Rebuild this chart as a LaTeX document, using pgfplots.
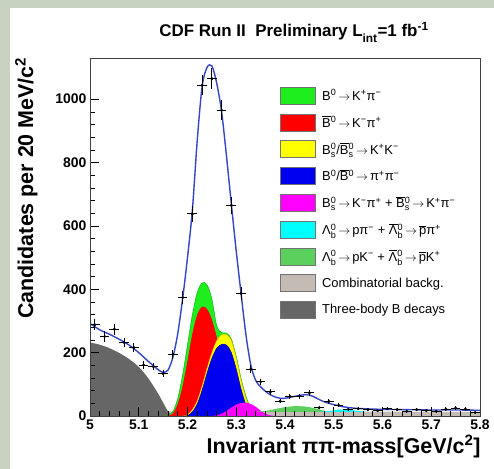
\documentclass[border=0pt]{standalone}
\usepackage{fontspec}
\setmainfont{Liberation Sans}
\usepackage{amsmath}
\usepackage{pgfplots}
\pgfplotsset{compat=1.18}

\definecolor{frameg}{HTML}{C8D2C0}
\definecolor{cgreen}{HTML}{1EEE1E}
\definecolor{cred}{HTML}{FF0000}
\definecolor{cyellow}{HTML}{FFFF00}
\definecolor{cblue}{HTML}{0000F0}
\definecolor{cmag}{HTML}{FF00FF}
\definecolor{ccyan}{HTML}{00FFFF}
\definecolor{clgreen}{HTML}{5CD05C}
\definecolor{ccomb}{HTML}{C4BCB4}
\definecolor{cthree}{HTML}{666666}
\definecolor{cfit}{HTML}{3545C8}

\newcommand{\sps}[1]{\ensuremath{^{\text{#1}}}}
\newcommand{\sbs}[2]{\ensuremath{^{\text{#1}}_{\text{#2}}}}
\newcommand{\ra}{\ensuremath{\,\rightarrow\,}}
\newcommand{\bbar}[1]{\ensuremath{\overline{\text{#1}}}}

\begin{document}
\begin{tikzpicture}
\path[use as bounding box] (0,0) rectangle (494bp,469bp);
\fill[frameg] (0,0) rectangle (494bp,469bp);
\fill[white] (10bp,0) rectangle (494bp,461bp);

\begin{axis}[
  scale only axis,
  width=390bp, height=358bp,
  at={(90bp,53bp)}, anchor=south west,
  xmin=5, xmax=5.8, ymin=0, ymax=1130,
  xtick={5,5.1,5.2,5.3,5.4,5.5,5.6,5.7,5.8},
  ytick={0,200,400,600,800,1000},
  minor x tick num=4, minor y tick num=4,
  tick align=inside, tick pos=left,
  major tick length=9bp, minor tick length=5bp,
  tick style={black, line width=0.7bp},
  axis line style={black!75, line width=0.8bp},
  axis on top,
  ticklabel style={font=\bfseries\fontsize{14}{14}\selectfont},
  /pgf/number format/assume math mode=true,
  /pgf/number format/1000 sep={},
  legend image code/.code={\draw[#1, draw=black!55, line width=0.5bp] (0bp,-8.5bp) rectangle (35bp,8.5bp);},
  legend cell align=left,
  legend style={draw=none, fill=none, at={(rel axis cs:0.487,0.92)}, anchor=north west,
    font=\fontsize{13}{13}\selectfont, row sep=9.3bp, column sep=6.5bp,
    inner sep=0pt, nodes={inner sep=0pt}},
]

% combinatorial background (flat band)
\addplot[forget plot, fill=ccomb, draw=none] coordinates {(5.00,15) (5.80,13)} \closedcycle;

% three-body B decays
\addplot[forget plot, fill=cthree, draw=none, smooth] coordinates {
 (5.00,232) (5.02,225) (5.04,214) (5.06,199) (5.08,180) (5.10,155) (5.12,118)
 (5.14,70) (5.15,42) (5.16,15) (5.17,2) (5.18,0)} \closedcycle;

% B0 -> K+ pi- (outermost)
\addplot[forget plot, fill=cgreen, draw=green!70!black, line width=0.4bp, smooth] coordinates {
 (5.15,0) (5.16,2) (5.17,14) (5.18,55) (5.19,130) (5.20,225) (5.21,320) (5.22,390)
 (5.23,420) (5.24,415) (5.25,370) (5.26,285) (5.27,263) (5.28,262) (5.29,243)
 (5.30,188) (5.31,118) (5.32,62) (5.33,25) (5.34,8) (5.35,0)} \closedcycle;

% B0bar -> K- pi+
\addplot[forget plot, fill=cred, draw=none, smooth] coordinates {
 (5.15,0) (5.16,1) (5.17,8) (5.18,38) (5.19,95) (5.20,175) (5.21,260) (5.22,320)
 (5.23,345) (5.24,338) (5.25,305) (5.26,250) (5.27,195) (5.28,120) (5.29,50)
 (5.30,10) (5.31,0)} \closedcycle;

% Bs -> K+ K-
\addplot[forget plot, fill=cyellow, draw=orange!60!yellow, line width=0.4bp, smooth] coordinates {
 (5.19,0) (5.20,4) (5.21,20) (5.22,48) (5.23,95) (5.24,150) (5.25,200) (5.26,238)
 (5.27,256) (5.28,257) (5.29,238) (5.30,182) (5.31,112) (5.32,55) (5.33,20)
 (5.34,5) (5.35,0)} \closedcycle;

% B -> pi+ pi-
\addplot[forget plot, fill=cblue, draw=blue!60!black, line width=0.4bp, smooth] coordinates {
 (5.19,0) (5.20,1) (5.21,13) (5.22,38) (5.23,82) (5.24,135) (5.25,182) (5.26,214)
 (5.27,226) (5.28,224) (5.29,200) (5.30,148) (5.31,85) (5.32,35) (5.33,8) (5.34,0)} \closedcycle;

% Bs -> K- pi+
\addplot[forget plot, fill=cmag, draw=none, smooth] coordinates {
 (5.25,0) (5.26,2) (5.27,7) (5.28,16) (5.29,27) (5.30,36) (5.31,41) (5.32,42)
 (5.33,38) (5.34,29) (5.35,17) (5.36,7) (5.37,2) (5.38,0)} \closedcycle;

% Lambda_b -> p K
\addplot[forget plot, fill=clgreen, draw=none, smooth] coordinates {
 (5.34,13) (5.36,16) (5.38,22) (5.40,28) (5.42,31) (5.44,30) (5.46,25) (5.48,17) (5.50,13)} -- cycle;

% Lambda_b -> p pi
\addplot[forget plot, fill=ccyan, draw=none, smooth] coordinates {
 (5.47,13) (5.49,16) (5.51,20) (5.53,20) (5.55,16) (5.57,13)} -- cycle;

% total fit
\addplot[forget plot, cfit, line width=1.4bp, smooth, tension=0.5] coordinates {
 (5.00,292) (5.02,272) (5.04,258) (5.06,242) (5.08,224) (5.10,200) (5.12,172)
 (5.14,146) (5.15,138) (5.16,145) (5.17,185) (5.18,260) (5.19,370) (5.20,500)
 (5.21,650) (5.22,870) (5.23,1040) (5.24,1100) (5.25,1105) (5.26,1050) (5.27,960)
 (5.28,820) (5.29,668) (5.30,520) (5.31,385) (5.32,255) (5.33,160) (5.34,112)
 (5.35,92) (5.36,78) (5.37,67) (5.38,60) (5.39,56) (5.40,56) (5.41,59) (5.42,62)
 (5.43,65) (5.44,67) (5.45,66) (5.46,60) (5.47,52) (5.48,45) (5.49,40) (5.50,36)
 (5.52,29) (5.54,25) (5.56,23) (5.60,21) (5.65,20) (5.70,19) (5.75,19) (5.80,18)};

% data
\addplot[forget plot, only marks, black, mark=*, mark size=1.3bp,
  error bars/.cd, x dir=both, x explicit, y dir=both, y explicit,
  error bar style={line width=0.9bp, black}, error mark=none] coordinates {
 (5.01,288) +- (0.01,17)  (5.03,251) +- (0.01,16)  (5.05,274) +- (0.01,17)
 (5.07,232) +- (0.01,15)  (5.09,216) +- (0.01,15)  (5.11,161) +- (0.01,13)
 (5.13,156) +- (0.01,12)  (5.15,134) +- (0.01,12)  (5.17,195) +- (0.01,14)
 (5.19,374) +- (0.01,19)  (5.21,638) +- (0.01,25)  (5.23,1044) +- (0.01,32)
 (5.25,1065) +- (0.01,33) (5.27,965) +- (0.01,31)  (5.29,665) +- (0.01,26)
 (5.31,387) +- (0.01,20)  (5.33,148) +- (0.01,12)  (5.35,108) +- (0.01,10)
 (5.37,76) +- (0.01,9)    (5.39,47) +- (0.01,7)    (5.41,62) +- (0.01,8)
 (5.43,63) +- (0.01,8)    (5.45,73) +- (0.01,9)    (5.47,26) +- (0.01,5)
 (5.49,46) +- (0.01,7)    (5.51,34) +- (0.01,6)    (5.53,21) +- (0.01,5)
 (5.55,23) +- (0.01,5)    (5.57,20) +- (0.01,4)    (5.59,17) +- (0.01,4)
 (5.61,23) +- (0.01,5)    (5.63,20) +- (0.01,4)    (5.65,15) +- (0.01,4)
 (5.67,20) +- (0.01,4)    (5.69,17) +- (0.01,4)    (5.71,15) +- (0.01,4)
 (5.73,22) +- (0.01,5)    (5.75,25) +- (0.01,5)    (5.77,22) +- (0.01,5)
 (5.79,11) +- (0.01,3)};

% legend
\addlegendimage{fill=cgreen}
\addlegendentry{B\sps{0}\ra K\sps{+}π\sps{−}}
\addlegendimage{fill=cred}
\addlegendentry{\bbar{B}\sps{0}\ra K\sps{−}π\sps{+}}
\addlegendimage{fill=cyellow}
\addlegendentry{B\sbs{0}{s}/\bbar{B}\sbs{0}{s}\ra K\sps{+}K\sps{−}}
\addlegendimage{fill=cblue}
\addlegendentry{B\sps{0}/\bbar{B}\sps{0}\ra π\sps{+}π\sps{−}}
\addlegendimage{fill=cmag}
\addlegendentry{B\sbs{0}{s}\ra K\sps{−}π\sps{+} + \bbar{B}\sbs{0}{s}\ra K\sps{+}π\sps{−}}
\addlegendimage{fill=ccyan}
\addlegendentry{Λ\sbs{0}{b}\ra pπ\sps{−} + \bbar{Λ}\sbs{0}{b}\ra \bbar{p}π\sps{+}}
\addlegendimage{fill=clgreen}
\addlegendentry{Λ\sbs{0}{b}\ra pK\sps{−} + \bbar{Λ}\sbs{0}{b}\ra \bbar{p}K\sps{+}}
\addlegendimage{fill=ccomb}
\addlegendentry{Combinatorial backg.}
\addlegendimage{fill=cthree}
\addlegendentry{Three-body B decays}
\end{axis}

\node[anchor=base, font=\bfseries\fontsize{17}{17}\selectfont] at (294bp,432bp)
  {CDF Run II\ \ Preliminary L\sbs{}{int}=1 fb\sps{-1}};
\node[anchor=base east, font=\bfseries\fontsize{21.5}{21.5}\selectfont] at (484bp,16bp)
  {Invariant ππ-mass[GeV/c\sps{2}]};
\node[rotate=90, anchor=base, font=\bfseries\fontsize{21.5}{21.5}\selectfont] at (33bp,281bp)
  {Candidates per 20 MeV/c\sps{2}};
\end{tikzpicture}
\end{document}
